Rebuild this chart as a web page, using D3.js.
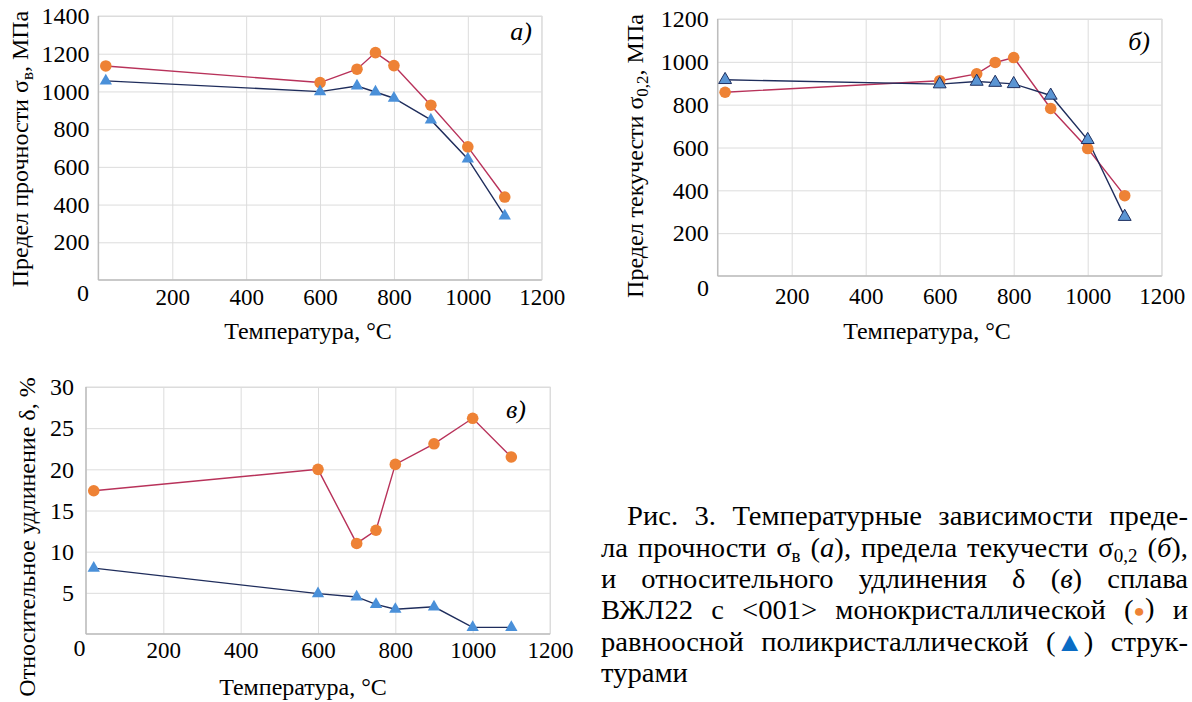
<!DOCTYPE html>
<html>
<head>
<meta charset="utf-8">
<script src="https://cdn.jsdelivr.net/npm/d3@7"></script>
<style>
  body { margin: 0; background: #fff; }
  svg { display: block; }
  text { font-family: "Liberation Serif", "Times New Roman", serif; fill: #000; }
</style>
</head>
<body>
<svg id="chart" width="1192" height="702"></svg>
<script>
// Data
var temps = [20, 600, 700, 750, 800, 900, 1000, 1100];           // test temperature, °C
var strengthMono = [1135, 1047, 1118, 1206, 1137, 927, 706, 440];  // sigma_b, single crystal
var strengthPoly = [1056, 999, 1029, 997, 964, 849, 642, 340];     // sigma_b, polycrystal
var yieldMono = [858, 912, 944, 997, 1020, 782, 595, 375];         // sigma_0.2, single crystal
var yieldPoly = [916, 896, 908, 903, 897, 843, 636, 277];          // sigma_0.2, polycrystal
var elongMono = [17.4, 20.0, 11.0, 12.6, 20.6, 23.1, 26.2, 21.5];  // delta, single crystal
var elongPoly = [8.0, 4.9, 4.5, 3.6, 3.0, 3.3, 0.8, 0.8];          // delta, polycrystal

var xTicks = [200, 400, 600, 800, 1000, 1200];
var strengthTicks = [200, 400, 600, 800, 1000, 1200, 1400];
var yieldTicks = [200, 400, 600, 800, 1000, 1200];
var elongTicks = [5, 10, 15, 20, 25, 30];

var xTitle = "Температура, °C";

// Caption: "_" = subscript for the rest of the word, /x/ = italic
var captionLines = [
  ["Рис.", "3.", "Температурные", "зависимости", "преде-"],
  ["ла", "прочности", "σ_в", "(/а/),", "предела", "текучести", "σ_0,2", "(/б/),"],
  ["и", "относительного", "удлинения", "δ", "(/в/)", "сплава"],
  ["ВЖЛ22", "с", "<001>", "монокристаллической", "(●)", "и"],
  ["равноосной", "поликристаллической", "(▲)", "струк-"],
  ["турами"]
];

// Colors
var orange = "#ee8235", monoLine = "#b8325a";
var blue = "#4a90d9", polyLine = "#1f2d5c";
var gridColor = "#dcdcdc", axisColor = "#bdbdbd";

var svg = d3.select("#chart");

// Panels (layout only)
var panels = [
  { left: 98.4, right: 541.7, top: 16, bottom: 280, yMax: 1400, yTicks: strengthTicks,
    mono: strengthMono, poly: strengthPoly, triStroke: false,
    yPad: 9, xPad: 9, zero: [83, 293], letter: "а)", letterPos: [532, 40],
    title: [["Предел прочности σ", ""], ["в", "sub"], [", МПа", ""]], titlePos: [28, 149],
    xTitlePos: [308, 339] },
  { left: 717.7, right: 1161.7, top: 19, bottom: 276, yMax: 1200, yTicks: yieldTicks,
    mono: yieldMono, poly: yieldPoly, triStroke: true,
    yPad: 9, xPad: 12, zero: [703, 288], letter: "б)", letterPos: [1150, 50],
    title: [["Предел текучести σ", ""], ["0,2", "sub"], [", МПа", ""]], titlePos: [643, 156],
    xTitlePos: [927, 339] },
  { left: 86, right: 550, top: 387, bottom: 634, yMax: 30, yTicks: elongTicks,
    mono: elongMono, poly: elongPoly, triStroke: false,
    yPad: 12, xPad: 8, zero: [79.5, 648], letter: "в)", letterPos: [526, 418],
    title: [["Относительное удлинение δ, %", ""]], titlePos: [35, 537],
    xTitlePos: [303, 695] }
];

panels.forEach(drawPanel);

function drawPanel(p) {
  var x = d3.scaleLinear().domain([0, 1200]).range([p.left, p.right]);
  var y = d3.scaleLinear().domain([0, p.yMax]).range([p.bottom, p.top]);
  var g = svg.append("g");

  // grid
  g.append("g")
    .attr("transform", "translate(0," + p.bottom + ")")
    .call(d3.axisBottom(x).tickValues(xTicks).tickSize(-(p.bottom - p.top)).tickFormat(""))
    .call(function(s) { s.select(".domain").remove(); s.selectAll("line").attr("stroke", gridColor); });
  g.append("g")
    .attr("transform", "translate(" + p.left + ",0)")
    .call(d3.axisLeft(y).tickValues(p.yTicks).tickSize(-(p.right - p.left)).tickFormat(""))
    .call(function(s) { s.select(".domain").remove(); s.selectAll("line").attr("stroke", gridColor); });

  // plot border and axis lines
  g.append("rect")
    .attr("x", p.left).attr("y", p.top)
    .attr("width", p.right - p.left).attr("height", p.bottom - p.top)
    .attr("fill", "none").attr("stroke", gridColor);
  g.append("line").attr("x1", p.left).attr("x2", p.right).attr("y1", p.bottom).attr("y2", p.bottom)
    .attr("stroke", axisColor).attr("stroke-width", 1.5);
  g.append("line").attr("x1", p.left).attr("x2", p.left).attr("y1", p.top).attr("y2", p.bottom)
    .attr("stroke", axisColor).attr("stroke-width", 1.5);

  // tick labels
  g.append("g")
    .attr("transform", "translate(" + p.left + ",0)")
    .call(d3.axisLeft(y).tickValues(p.yTicks).tickSize(0).tickPadding(p.yPad).tickFormat(d3.format("d")))
    .call(function(s) {
      s.select(".domain").remove();
      s.attr("font-family", null).attr("font-size", null);
      s.selectAll("text").attr("font-size", 24);
    });
  g.append("g")
    .attr("transform", "translate(0," + p.bottom + ")")
    .call(d3.axisBottom(x).tickValues(xTicks).tickSize(0).tickPadding(p.xPad).tickFormat(d3.format("d")))
    .call(function(s) {
      s.select(".domain").remove();
      s.attr("font-family", null).attr("font-size", null);
      s.selectAll("text").attr("font-size", 23);
    });
  g.append("text")
    .attr("x", p.zero[0]).attr("y", p.zero[1]).attr("dy", "0.35em")
    .attr("text-anchor", "middle").attr("font-size", 24).text("0");

  // series lines
  var line = d3.line().x(function(d) { return x(d[0]); }).y(function(d) { return y(d[1]); });
  g.append("path").datum(d3.zip(temps, p.mono))
    .attr("d", line).attr("fill", "none").attr("stroke", monoLine).attr("stroke-width", 1.4);
  g.append("path").datum(d3.zip(temps, p.poly))
    .attr("d", line).attr("fill", "none").attr("stroke", polyLine).attr("stroke-width", 1.4);

  // markers
  g.selectAll("circle.mono").data(d3.zip(temps, p.mono)).enter()
    .append("circle").attr("class", "mono")
    .attr("cx", function(d) { return x(d[0]); })
    .attr("cy", function(d) { return y(d[1]); })
    .attr("r", 5.8).attr("fill", orange);
  g.selectAll("path.poly").data(d3.zip(temps, p.poly)).enter()
    .append("path").attr("class", "poly")
    .attr("d", d3.symbol(d3.symbolTriangle, p.triStroke ? 72 : 66)())
    .attr("transform", function(d) { return "translate(" + x(d[0]) + "," + y(d[1]) + ")"; })
    .attr("fill", p.triStroke ? "#5b95d3" : blue)
    .attr("stroke", p.triStroke ? "#1f3060" : "none")
    .attr("stroke-width", 1);

  // panel letter
  g.append("text")
    .attr("x", p.letterPos[0]).attr("y", p.letterPos[1])
    .attr("text-anchor", "end").attr("font-size", 26).attr("font-style", "italic")
    .text(p.letter);

  // axis titles
  g.append("text")
    .attr("x", p.xTitlePos[0]).attr("y", p.xTitlePos[1])
    .attr("text-anchor", "middle").attr("font-size", 24)
    .text(xTitle);

  var yt = g.append("text")
    .attr("transform", "translate(" + p.titlePos[0] + "," + p.titlePos[1] + ") rotate(-90)")
    .attr("text-anchor", "middle").attr("font-size", 24);
  p.title.forEach(function(part, i) {
    var t = yt.append("tspan").text(part[0]);
    if (part[1] == "sub") t.attr("font-size", 17).attr("dy", 5);
    else if (i > 0 && p.title[i - 1][1] == "sub") t.attr("dy", -5);
  });
}

// Caption (justified, slightly wide type as in the scan)
var capLeft = 601, capIndent = 627, capRight = 1188, capScale = 1.06;
var capFont = 27, capFirstBase = 525.5, capStep = 31.3;

var cap = svg.append("g")
  .attr("transform", "translate(" + capLeft + ",0) scale(" + capScale + ",1)")
  .attr("font-size", capFont);

captionLines.forEach(function(words, li) {
  var baseY = capFirstBase + li * capStep;
  var startX = ((li == 0 ? capIndent : capLeft) - capLeft) / capScale;
  var endX = (capRight - capLeft) / capScale;

  var nodes = words.map(function(w) {
    var t = cap.append("text").attr("y", baseY);
    addWord(t, w);
    return t;
  });
  var widths = nodes.map(function(t) { return t.node().getComputedTextLength(); });
  var total = d3.sum(widths);
  var gap = (li == captionLines.length - 1 || words.length < 2)
    ? capFont * 0.25
    : (endX - startX - total) / (words.length - 1);
  var cx = startX;
  nodes.forEach(function(t, i) {
    t.attr("x", cx);
    cx += widths[i] + gap;
  });
});

function addWord(t, w) {
  var parts = w.split(/(_[^\s]+|\/[^\/]+\/|●|▲)/).filter(function(s) { return s.length; });
  var shifted = false;
  parts.forEach(function(s) {
    var sp = t.append("tspan");
    if (s[0] == "_") {
      sp.text(s.slice(1)).attr("font-size", 18).attr("dy", 5);
      shifted = true;
      return;
    }
    if (shifted) { sp.attr("dy", -5); shifted = false; }
    if (s[0] == "/" && s.length > 2) {
      sp.text(s.slice(1, -1)).attr("font-style", "italic");
    } else if (s == "●") {
      sp.text(s).attr("font-size", 18).attr("fill", orange).attr("dy", -2);
      t.append("tspan").attr("dy", 2).text("");
    } else if (s == "▲") {
      sp.text(s).attr("font-size", 27).attr("fill", "#0a6cc4");
    } else {
      sp.text(s);
    }
  });
}
</script>
</body>
</html>
